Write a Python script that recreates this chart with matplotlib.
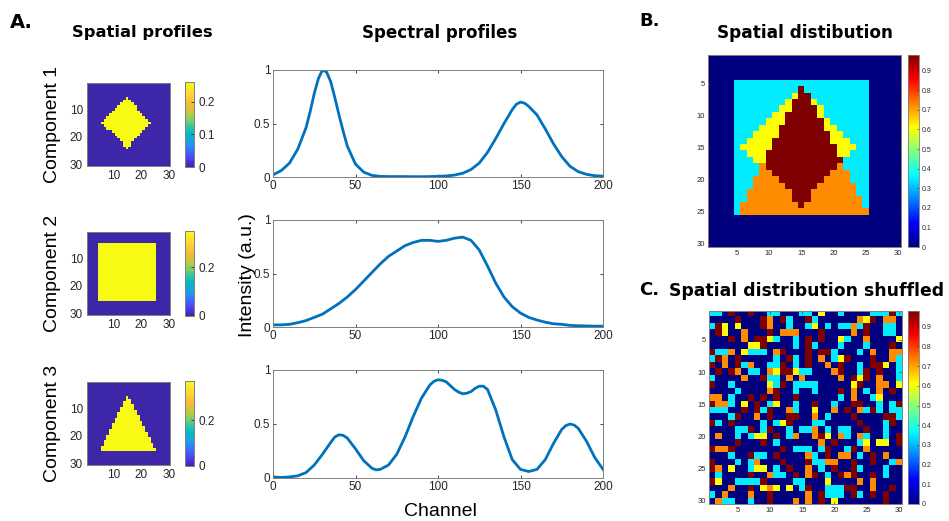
import matplotlib
matplotlib.use("Agg")
import matplotlib.pyplot as plt
import numpy as np
from matplotlib.colors import LinearSegmentedColormap
from matplotlib.ticker import FuncFormatter

W, H = 949, 521

# spectra: channel positions and intensities (denser samples around peaks)
channels_1 = [0, 5, 10, 15, 20, 22.5, 25, 27.5, 30, 32.5, 35, 37.5, 40, 42.5, 45,
              50, 55, 60, 65, 70, 75, 80, 85, 90, 95, 100, 105, 110, 115, 120, 125,
              130, 135, 140, 145, 147.5, 150, 152.5, 155, 160, 165, 170, 175, 180,
              185, 190, 195, 200]
spectrum_1 = [0.02, 0.06, 0.13, 0.26, 0.46, 0.61, 0.78, 0.92, 1.0, 0.98, 0.89, 0.74,
              0.58, 0.43, 0.29, 0.12, 0.045, 0.015, 0.006, 0.004, 0.004, 0.004, 0.003,
              0.003, 0.004, 0.006, 0.01, 0.018, 0.035, 0.07, 0.13, 0.23, 0.36, 0.50,
              0.63, 0.68, 0.70, 0.69, 0.66, 0.58, 0.45, 0.31, 0.19, 0.10, 0.05, 0.025,
              0.012, 0.008]

channels_2 = list(range(0, 201, 5))
spectrum_2 = [0.02, 0.02, 0.025, 0.04, 0.06, 0.09, 0.12, 0.17, 0.22, 0.28,
              0.35, 0.43, 0.51, 0.59, 0.66, 0.71, 0.76, 0.79, 0.81, 0.81,
              0.80, 0.81, 0.83, 0.84, 0.81, 0.72, 0.57, 0.41, 0.28, 0.19,
              0.13, 0.09, 0.065, 0.045, 0.03, 0.025, 0.015, 0.012, 0.01, 0.008, 0.008]

channels_3 = [0, 5, 10, 15, 20, 25, 30, 35, 37.5, 40, 42.5, 45, 50, 55, 60, 62.5, 65,
              70, 75, 80, 85, 90, 95, 97.5, 100, 102.5, 105, 110, 112.5, 115, 117.5,
              120, 122.5, 125, 127.5, 130, 135, 140, 145, 150, 155, 160, 165, 170,
              175, 177.5, 180, 182.5, 185, 190, 195, 200]
spectrum_3 = [0.01, 0.005, 0.01, 0.02, 0.05, 0.12, 0.22, 0.33, 0.38, 0.40, 0.395, 0.37,
              0.27, 0.16, 0.09, 0.075, 0.08, 0.12, 0.22, 0.38, 0.57, 0.74, 0.86, 0.895,
              0.91, 0.905, 0.89, 0.82, 0.795, 0.78, 0.785, 0.80, 0.83, 0.85, 0.85, 0.82,
              0.63, 0.38, 0.17, 0.08, 0.06, 0.08, 0.17, 0.32, 0.45, 0.485, 0.50, 0.49,
              0.46, 0.34, 0.19, 0.08]

# component amplitudes
amp_1, amp_2, amp_3 = 0.26, 0.35, 0.37

# square: rows/cols 5..25 (1-based)
square_span = (5, 25)
# diamond: first row 6, inclusive column limits per row
diamond_first_row = 6
diamond_left = [15, 14, 13, 12, 11, 10, 9, 8, 7, 6, 7, 8, 10, 11, 12, 13, 14, 14, 15]
diamond_right = [15, 16, 17, 18, 18, 19, 20, 21, 22, 23, 22, 21, 20, 19, 18, 17, 16, 16, 15]
# triangle: first row 6
triangle_first_row = 6
triangle_left = [15, 15, 14, 14, 13, 13, 12, 12, 11, 11, 10, 10, 9, 9, 8, 8, 7, 7, 6, 6]
triangle_right = [15, 16, 16, 17, 17, 18, 18, 19, 19, 20, 20, 21, 21, 22, 22, 23, 23, 24, 24, 25]

# shuffled distribution, one string per row:
# . background, c square only, y square+diamond, o square+triangle, r all three
shuffled_rows = [
    "cc.r..r..cc...cc.y..c....cccrc",
    "....r...ro.rc..rc......oyr.oo.",
    "cry.y...ro..c..cy.c.ccocr..cc.",
    ".ry..o...r.ooo...r....o.r..cc.",
    "...r.o.rryc..c.r.r..yc..o....y",
    "......yyr....c.rc...c...c...r.",
    "rcco.yccc.or...r.rrc...c.o..oo",
    "cro.r.....c.rc.r.o.cyr...r..oc",
    "r.o.rco..ccr.c.r..o.r..c.rry.c",
    ".r.ro.cc.oyrrycc...or..cr.r..c",
    "c....o..rcc.o.o.....o.ryr.o..c",
    "r..c.....ycr.cccc.....yr..oo.y",
    "....c....or..c..c...r.o.c.o.r.",
    "oo.c..r.r.r..r......c.o..cy...",
    "rooc.y.r.cy..c..r..c..rr..c.cr",
    "ccc..r.rcr..oc..y..o.r.ocrc.cc",
    "...cr..o.r..rr..o.c...r....rrc",
    "rc.r....c.cyr...cc.....r...cr.",
    "....ccr.cr..c.cco.c.cc..r..c..",
    ".o..c.cyy.r.co..ory.oc.oc..c.r",
    "....r...r.c......o.r...cy.yy.r",
    "roor.......r.ccc.cr..cr.o.....",
    "...c..rcc.r....oc.r.oo.c.r.o..",
    "r...c.co...r...rccoo..r..r..co",
    "ro.y..cyy.c.r..o.c.r..rc...c..",
    ".c....r..occ.r.or.c.ror..r.c..",
    "ry..ccccr....cc...y....o.o....",
    "...o..r.yoy.y.cr..cccrr..o..r.",
    "c.o...o..r.....o.rccc.rc.r.r..",
    ".occ..c..r...o.o.r.y.......r..",
]

PARULA = LinearSegmentedColormap.from_list("parula", [
    (0.2422, 0.1504, 0.6603), (0.2780, 0.2178, 0.8650), (0.2810, 0.3228, 0.9579),
    (0.2000, 0.4500, 0.9950), (0.1540, 0.5902, 0.9218), (0.0704, 0.6704, 0.8450),
    (0.0294, 0.7208, 0.7679), (0.1804, 0.7723, 0.6392), (0.4243, 0.8028, 0.4573),
    (0.6473, 0.8039, 0.3010), (0.8219, 0.7739, 0.2197), (0.9453, 0.7296, 0.2424),
    (0.9973, 0.7730, 0.2190), (0.9924, 0.8551, 0.1778), (0.9657, 0.9235, 0.1394),
    (0.9769, 0.9839, 0.0805)])

# MATLAB-style jet (piecewise linear in eighths)
JET = LinearSegmentedColormap("jet_m", {
    "red": [(0, 0, 0), (0.375, 0, 0), (0.625, 1, 1), (0.875, 1, 1), (1, 0.5, 0.5)],
    "green": [(0, 0, 0), (0.125, 0, 0), (0.375, 1, 1), (0.625, 1, 1), (0.875, 0, 0), (1, 0, 0)],
    "blue": [(0, 0.5, 0.5), (0.125, 1, 1), (0.375, 1, 1), (0.625, 0, 0), (1, 0, 0)],
})

LINE_BLUE = (0, 0.447, 0.741)
TICK_GREY = "#262626"
FONT = "Liberation Sans"

plt.rcParams["font.family"] = [FONT, "DejaVu Sans"]


def rect(x0, y0, x1, y1):
    return [x0 / W, 1 - y1 / H, (x1 - x0) / W, (y1 - y0) / H]


def rows_to_mask(first_row, left, right):
    mask = np.zeros((30, 30))
    for i, (lo, hi) in enumerate(zip(left, right)):
        r = first_row + i - 1
        mask[r, lo - 1:hi] = 1
    return mask


square = np.zeros((30, 30))
square[square_span[0] - 1:square_span[1], square_span[0] - 1:square_span[1]] = 1
diamond = rows_to_mask(diamond_first_row, diamond_left, diamond_right)
triangle = rows_to_mask(triangle_first_row, triangle_left, triangle_right)

components = [amp_1 * diamond, amp_2 * square, amp_3 * triangle]
distribution = components[0] + components[1] + components[2]

code_values = {".": 0.0, "c": amp_2, "y": amp_1 + amp_2,
               "o": amp_2 + amp_3, "r": amp_1 + amp_2 + amp_3}
shuffled = np.array([[code_values[ch] for ch in row] for row in shuffled_rows])

fmt = FuncFormatter(lambda v, _: f"{v:g}")
extent = (0.5, 30.5, 30.5, 0.5)

fig = plt.figure(figsize=(W / 100, H / 100), dpi=100)


def style_axes(ax, size):
    ax.tick_params(direction="in", labelsize=size, colors=TICK_GREY,
                   top=True, right=True, length=2.5, width=0.6)
    for s in ax.spines.values():
        s.set_color("#7f7f7f")
        s.set_linewidth(0.7)


# spatial profiles + colorbars
comp_boxes = [(83, 166), (232, 315), (382, 465)]
comp_cticks = [[0, 0.1, 0.2], [0, 0.2], [0, 0.2]]
for k, (comp, (y0, y1)) in enumerate(zip(components, comp_boxes)):
    ax = fig.add_axes(rect(87, y0, 170, y1))
    im = ax.imshow(comp, cmap=PARULA, vmin=0, vmax=comp.max(),
                   extent=extent, aspect="auto", interpolation="nearest")
    ax.set_xticks([10, 20, 30])
    ax.set_yticks([10, 20, 30])
    style_axes(ax, 8.5)
    ax.tick_params(length=0, pad=3)
    ax.set_ylabel(f"Component {k + 1}", fontsize=14, labelpad=6, color="black")
    cax = fig.add_axes(rect(185, y0 - 1, 194, y1 + 1))
    cb = fig.colorbar(im, cax=cax, ticks=comp_cticks[k], format=fmt)
    cb.outline.set_edgecolor("#7f7f7f")
    cb.outline.set_linewidth(0.7)
    cax.tick_params(direction="in", labelsize=8.5, colors=TICK_GREY, length=2, width=0.6)

# spectral profiles
spectra = [(channels_1, spectrum_1), (channels_2, spectrum_2), (channels_3, spectrum_3)]
spec_boxes = [(70, 177), (220, 327), (370, 478)]
for (chan, spec), (y0, y1) in zip(spectra, spec_boxes):
    ax = fig.add_axes(rect(273, y0, 603, y1))
    ax.plot(chan, spec, color=LINE_BLUE, lw=2, solid_joinstyle="round")
    ax.set_xlim(0, 200)
    ax.set_ylim(0, 1)
    ax.set_xticks([0, 50, 100, 150, 200])
    ax.set_yticks([0, 0.5, 1])
    ax.yaxis.set_major_formatter(fmt)
    style_axes(ax, 8.5)
    ax.tick_params(pad=2)

fig.text(247 / W, 1 - 275 / H, "Intensity (a.u.)", rotation=90, fontsize=14,
         ha="center", va="center")
fig.text(440 / W, 1 - 511 / H, "Channel", fontsize=14, ha="center", va="center")


# distribution maps
def draw_map(data, y0, y1, x0, x1):
    ax = fig.add_axes(rect(x0, y0, x1, y1))
    im = ax.imshow(data, cmap=JET, vmin=0, vmax=distribution.max(),
                   extent=extent, aspect="auto", interpolation="nearest")
    ax.set_xticks([5, 10, 15, 20, 25, 30])
    ax.set_yticks([5, 10, 15, 20, 25, 30])
    style_axes(ax, 5.5)
    ax.tick_params(length=2, pad=2, width=0.4)
    cax = fig.add_axes(rect(908, y0, 919, y1))
    cb = fig.colorbar(im, cax=cax, ticks=np.arange(0, 1.0, 0.1).round(1), format=fmt)
    cb.outline.set_edgecolor("#7f7f7f")
    cb.outline.set_linewidth(0.6)
    cax.tick_params(direction="in", labelsize=5, colors=TICK_GREY, length=1.5, width=0.4, pad=2)


draw_map(distribution, 55, 247, 708, 901)
draw_map(shuffled, 311, 504, 709, 902)

# headings
head = dict(fontweight="bold", family="DejaVu Sans", va="center")
fig.text(10 / W, 1 - 23 / H, "A.", fontsize=14, ha="left", **head)
fig.text(639 / W, 1 - 21 / H, "B.", fontsize=13, ha="left", **head)
fig.text(639 / W, 1 - 290 / H, "C.", fontsize=13, ha="left", **head)
fig.text(142 / W, 1 - 33 / H, "Spatial profiles", fontsize=11.8, ha="center", **head)
fig.text(440 / W, 1 - 33 / H, "Spectral profiles", fontsize=12, ha="center", **head)
fig.text(805 / W, 1 - 33 / H, "Spatial distibution", fontsize=12.2, ha="center", **head)
fig.text(807 / W, 1 - 291 / H, "Spatial distribution shuffled", fontsize=12.4, ha="center", **head)

fig.savefig("out.png", dpi=100)
